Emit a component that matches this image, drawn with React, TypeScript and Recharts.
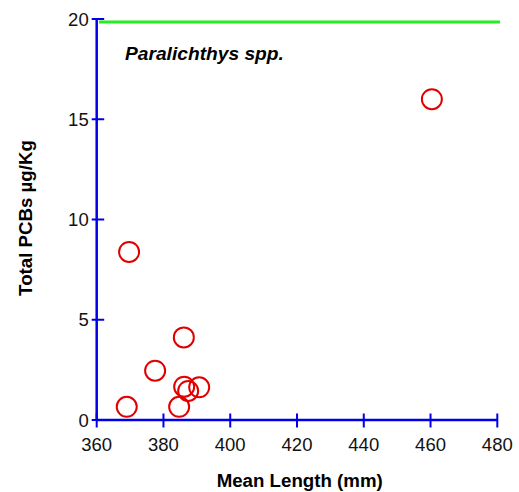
import React from "react";
import { ScatterChart, Scatter, XAxis, YAxis, ReferenceLine, Customized } from "recharts";

const lengths = [369.0, 369.7, 377.5, 384.7, 386.1, 386.2, 387.4, 390.7, 460.4];
const pcbs = [0.66, 8.38, 2.46, 0.66, 4.12, 1.66, 1.45, 1.63, 16.0];
const xTicks = [360, 380, 400, 420, 440, 460, 480];
const yTicks = [0, 5, 10, 15, 20];
const limitValue = 19.85;

const data = lengths.map((x, i) => ({ x, y: pcbs[i] }));

const BLUE = "#0000e6";
const FONT = "Arial, 'Liberation Sans', Helvetica, sans-serif";

const XTick = (props: any) => {
  const { x, y, payload } = props;
  return (
    <g>
      <line x1={x} x2={x} y1={y - 6.5} y2={y + 7.5} stroke={BLUE} strokeWidth={2} />
      <text x={x} y={y + 31} textAnchor="middle" fontSize={18.5} fontFamily={FONT} fill="#111">
        {payload.value}
      </text>
    </g>
  );
};

const YTick = (props: any) => {
  const { x, y, payload } = props;
  return (
    <g>
      <line x1={x - 5} x2={x + 7.5} y1={y} y2={y} stroke={BLUE} strokeWidth={2} />
      <text x={x - 8} y={y + 6.5} textAnchor="end" fontSize={18.5} fontFamily={FONT} fill="#111">
        {payload.value}
      </text>
    </g>
  );
};

const Ring = (props: any) => {
  const { cx, cy } = props;
  return <circle cx={cx} cy={cy} r={10} fill="none" stroke="#e00000" strokeWidth={2} />;
};

const Texts = () => (
  <g fontFamily={FONT} fill="#000">
    <text x={125} y={60} fontSize={19.2} fontWeight="bold" fontStyle="italic">
      Paralichthys spp.
    </text>
    <text x={299.7} y={487} fontSize={18.7} fontWeight="bold" textAnchor="middle">
      Mean Length (mm)
    </text>
    <text
      x={32}
      y={218}
      fontSize={18.7}
      fontWeight="bold"
      textAnchor="middle"
      transform="rotate(-90 32 218)"
    >
      Total PCBs µg/Kg
    </text>
  </g>
);

export default function App() {
  return (
    <div style={{ position: "absolute", left: 0, top: 0 }}>
      <ScatterChart
        width={519}
        height={492}
        margin={{ top: 19, right: 21.7, left: 0, bottom: 0 }}
      >
        <XAxis
          type="number"
          dataKey="x"
          domain={[360, 480]}
          ticks={xTicks}
          tickSize={0}
          tickMargin={0}
          tickLine={false}
          height={72}
          axisLine={{ stroke: BLUE, strokeWidth: 2.5 }}
          tick={<XTick />}
          interval={0}
          allowDataOverflow
        />
        <YAxis
          type="number"
          dataKey="y"
          domain={[0, 20]}
          ticks={yTicks}
          tickSize={0}
          tickMargin={0}
          tickLine={false}
          width={96.7}
          axisLine={{ stroke: BLUE, strokeWidth: 2.5 }}
          tick={<YTick />}
          interval={0}
          allowDataOverflow
        />
        <ReferenceLine
          segment={[
            { x: 360.7, y: limitValue },
            { x: 480.8, y: limitValue },
          ]}
          stroke="#22ee22"
          strokeWidth={3}
          ifOverflow="visible"
        />
        <Scatter data={data} shape={<Ring />} isAnimationActive={false} />
        <Customized component={Texts} />
      </ScatterChart>
    </div>
  );
}
